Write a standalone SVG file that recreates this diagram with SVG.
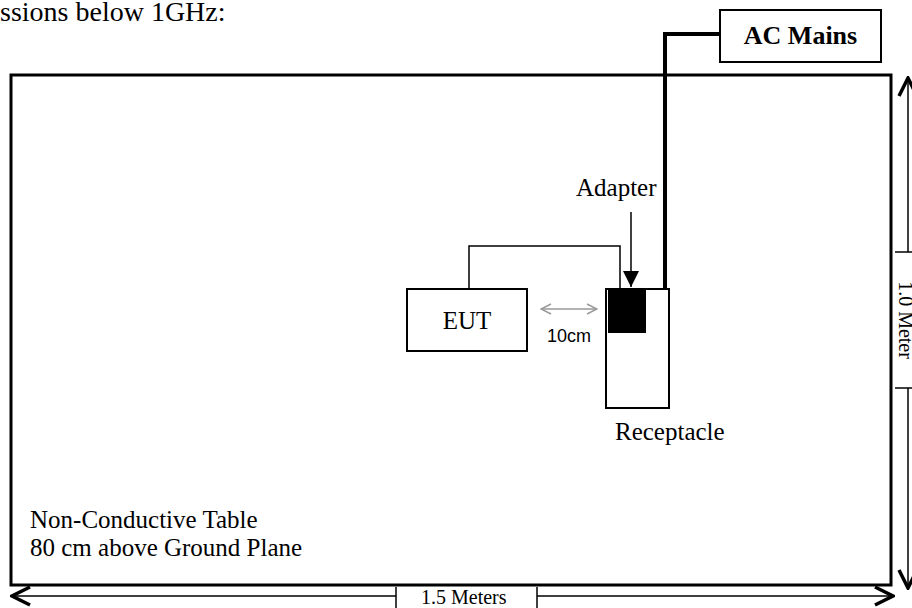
<svg xmlns="http://www.w3.org/2000/svg" width="912" height="608" viewBox="0 0 912 608">
<style>
.t{font-family:"Liberation Serif","Times New Roman",serif;font-size:25px;fill:#000}
.s{font-family:"Liberation Serif","Times New Roman",serif;font-size:20px;fill:#000}
.a{font-family:"Liberation Sans",Arial,sans-serif;font-size:18px;fill:#000}
.box{fill:#fff;stroke:#000;stroke-width:2}
.thin{fill:none;stroke:#000;stroke-width:1.5}
.dim{fill:none;stroke:#000;stroke-width:1.5}
</style>
<defs>
<marker id="open" viewBox="0 0 22 22" refX="20" refY="11" markerWidth="22" markerHeight="22" markerUnits="userSpaceOnUse" orient="auto-start-reverse">
<path d="M2,2 L20,11 L2,20" fill="none" stroke="#000" stroke-width="3.5"/>
</marker>
<marker id="gray" viewBox="0 0 12 12" refX="11" refY="6" markerWidth="12" markerHeight="12" markerUnits="userSpaceOnUse" orient="auto-start-reverse">
<path d="M1,1 L11,6 L1,11" fill="none" stroke="#999" stroke-width="1.5"/>
</marker>
<marker id="tri" viewBox="0 0 16 16" refX="16" refY="8" markerWidth="16" markerHeight="16" markerUnits="userSpaceOnUse" orient="auto">
<path d="M0,0 L16,8 L0,16 Z" fill="#000"/>
</marker>
</defs>

<text class="t" x="0" y="21" style="font-size:28px">ssions below 1GHz:</text>

<g id="table">
<rect x="11" y="75" width="880" height="510" fill="none" stroke="#000" stroke-width="3"/>
<text class="t" x="30" y="528">Non-Conductive Table</text>
<text class="t" x="30" y="556">80 cm above Ground Plane</text>
</g>

<g id="connectors">
<polyline class="thin" points="469,289 469,246 620,246 620,289"/>
<polyline points="720,34 665,34 665,289" fill="none" stroke="#000" stroke-width="4"/>
<line x1="631" y1="212" x2="631" y2="287" stroke="#000" stroke-width="1.5" marker-end="url(#tri)"/>
<line x1="541" y1="309" x2="597" y2="309" stroke="#999" stroke-width="1.5" marker-start="url(#gray)" marker-end="url(#gray)"/>
</g>

<g id="ac-mains">
<rect class="box" x="720" y="10" width="161" height="52"/>
<text class="t" x="800.5" y="44" text-anchor="middle" style="font-weight:bold;font-size:26px">AC Mains</text>
</g>

<g id="eut">
<rect class="box" x="407" y="289" width="120" height="62"/>
<text class="t" x="467" y="329" text-anchor="middle">EUT</text>
</g>

<g id="receptacle">
<rect class="box" x="606" y="289" width="63" height="119"/>
<text class="t" x="615" y="440">Receptacle</text>
</g>

<g id="adapter">
<rect x="608" y="289" width="38" height="44" fill="#000"/>
<text class="t" x="576" y="196">Adapter</text>
</g>

<text class="a" x="547" y="342">10cm</text>

<g id="dim-width">
<line class="dim" x1="12" y1="596" x2="396" y2="596" marker-start="url(#open)"/>
<line class="dim" x1="537" y1="596" x2="893" y2="596" marker-end="url(#open)"/>
<line class="dim" x1="396" y1="587" x2="396" y2="608"/>
<line class="dim" x1="537" y1="587" x2="537" y2="608"/>
<text class="s" x="421" y="604">1.5 Meters</text>
</g>

<g id="dim-height">
<line class="dim" x1="908" y1="78" x2="908" y2="252" marker-start="url(#open)"/>
<line class="dim" x1="908" y1="388" x2="908" y2="588" marker-end="url(#open)"/>
<line class="dim" x1="895" y1="252" x2="912" y2="252"/>
<line class="dim" x1="895" y1="388" x2="912" y2="388"/>
<text class="s" transform="translate(899,320) rotate(90)" text-anchor="middle">1.0 Meter</text>
</g>
</svg>
